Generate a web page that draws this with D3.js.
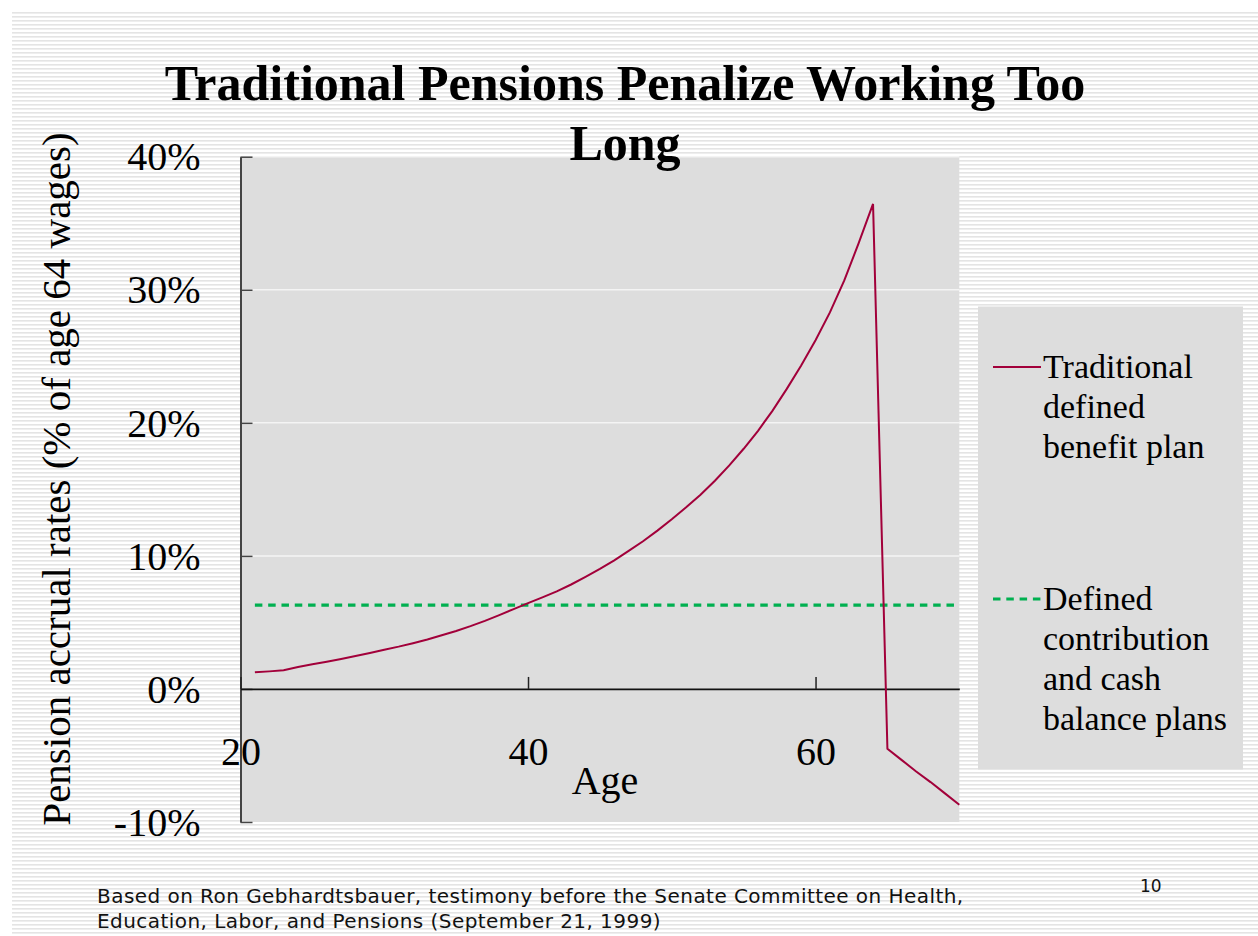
<!DOCTYPE html>
<html>
<head>
<meta charset="utf-8">
<script src="https://cdn.jsdelivr.net/npm/d3@7"></script>
<style>
  html, body { margin: 0; padding: 0; background: #ffffff; }
  svg { display: block; }
</style>
</head>
<body>
<svg id="chart" width="1258" height="936"></svg>
<script>
// Pension accrual by age, as a share of age-64 wages (%)
const ages = [21, 22, 23, 24, 25, 26, 27, 28, 29, 30,
              31, 32, 33, 34, 35, 36, 37, 38, 39, 40,
              41, 42, 43, 44, 45, 46, 47, 48, 49, 50,
              51, 52, 53, 54, 55, 56, 57, 58, 59, 60,
              61, 62, 63, 64, 65, 66, 67, 68, 69, 70];
const traditionalDB = [1.25, 1.32, 1.40, 1.65, 1.85, 2.05, 2.25, 2.47, 2.70, 2.95,
                       3.18, 3.44, 3.72, 4.03, 4.35, 4.72, 5.12, 5.55, 6.00, 6.45,
                       6.88, 7.33, 7.85, 8.42, 9.02, 9.66, 10.37, 11.10, 11.90, 12.75,
                       13.65, 14.60, 15.65, 16.80, 18.05, 19.40, 20.90, 22.55, 24.30, 26.20,
                       28.30, 30.70, 33.50, 36.45, -4.50, -5.35, -6.20, -7.00, -7.85, -8.70];
const dcAges = [21, 70];
const dcCashBalance = [6.3, 6.3];

const yTicks = [-10, 0, 10, 20, 30, 40];
const xTicks = [20, 40, 60];
const titleLines = ["Traditional Pensions Penalize Working Too", "Long"];
const legendTraditional = ["Traditional", "defined", "benefit plan"];
const legendDC = ["Defined", "contribution", "and cash", "balance plans"];
const sourceLines = ["Based on Ron Gebhardtsbauer, testimony before the Senate Committee on Health,",
                     "Education, Labor, and Pensions (September 21, 1999)"];
const slideNumber = "10";

const svg = d3.select("#chart");
const serif = "'Liberation Serif', 'Times New Roman', serif";
const sans = "'DejaVu Sans', Verdana, sans-serif";

// Striped slide background
const defs = svg.append("defs");
const pat = defs.append("pattern").attr("id", "stripes")
  .attr("patternUnits", "userSpaceOnUse").attr("width", 8).attr("height", 4);
pat.append("rect").attr("width", 8).attr("height", 4).attr("fill", "#ffffff");
pat.append("rect").attr("y", 0).attr("width", 8).attr("height", 1.6).attr("fill", "#e4e4e4");
svg.append("rect").attr("x", 12).attr("y", 10).attr("width", 1246).attr("height", 926)
  .attr("fill", "url(#stripes)");

// Plot area
const plot = { left: 240.5, right: 959.3, top: 156.7, bottom: 822 };
const x = d3.scaleLinear().domain([20, 70]).range([plot.left, plot.right]);
const y = d3.scaleLinear().domain([-10, 40]).range([plot.bottom, plot.top]);

svg.append("rect")
  .attr("x", plot.left).attr("y", plot.top)
  .attr("width", plot.right - plot.left).attr("height", plot.bottom - plot.top)
  .attr("fill", "#dddddd");

// Horizontal gridlines
svg.append("g").selectAll("line").data(yTicks.filter(d => d > 0)).join("line")
  .attr("x1", plot.left).attr("x2", plot.right)
  .attr("y1", d => y(d)).attr("y2", d => y(d))
  .attr("stroke", "#f4f4f4").attr("stroke-width", 1.5);

// Y axis
const yAxis = svg.append("g").attr("transform", `translate(${plot.left},0)`)
  .call(d3.axisLeft(y).tickValues(yTicks).tickFormat(d => d + "%")
    .tickSize(-12).tickSizeOuter(0).tickPadding(40));
yAxis.select(".domain").attr("stroke", "#444").attr("stroke-width", 2);
yAxis.selectAll(".tick line").attr("stroke", "#444").attr("stroke-width", 1.5);
yAxis.selectAll("text").attr("font-family", serif).attr("font-size", 40)
  .attr("fill", "#000").attr("dy", "0.33em");

// X axis along the zero line
const xAxis = svg.append("g").attr("transform", `translate(0,${y(0)})`)
  .call(d3.axisBottom(x).tickValues(xTicks).tickFormat(d3.format("d"))
    .tickSize(-12).tickSizeOuter(0).tickPadding(48));
xAxis.select(".domain").attr("stroke", "#111").attr("stroke-width", 1.8);
xAxis.selectAll(".tick line").attr("stroke", "#222").attr("stroke-width", 1.5);
xAxis.selectAll("text").attr("font-family", serif).attr("font-size", 40)
  .attr("fill", "#000").attr("dy", "0.71em");

// Series
const line = d3.line().x(d => x(d[0])).y(d => y(d[1]));
svg.append("path")
  .datum(dcAges.map((a, i) => [a, dcCashBalance[i]]))
  .attr("d", line).attr("fill", "none")
  .attr("stroke", "#00b050").attr("stroke-width", 3.2)
  .attr("stroke-dasharray", "7.5,5.8");
svg.append("path")
  .datum(ages.map((a, i) => [a, traditionalDB[i]]))
  .attr("d", line).attr("fill", "none")
  .attr("stroke", "#a2003a").attr("stroke-width", 2).attr("stroke-linejoin", "miter");

// Axis titles
svg.append("text").attr("x", 605).attr("y", 794).attr("text-anchor", "middle")
  .attr("font-family", serif).attr("font-size", 40).text("Age");
svg.append("text").attr("transform", "translate(70,479) rotate(-90)")
  .attr("text-anchor", "middle").attr("font-family", serif).attr("font-size", 41)
  .text("Pension accrual rates (% of age 64 wages)");

// Title
svg.append("g").selectAll("text").data(titleLines).join("text")
  .attr("x", 625).attr("y", (d, i) => 100 + i * 60)
  .attr("text-anchor", "middle").attr("font-family", serif)
  .attr("font-weight", "bold").attr("font-size", 50).text(d => d);

// Legend
const lg = svg.append("g");
lg.append("rect").attr("x", 978).attr("y", 306.5).attr("width", 265).attr("height", 463)
  .attr("fill", "#dddddd");
const legendItems = [
  { lines: legendTraditional, y: 367, color: "#a2003a", dash: null, width: 2 },
  { lines: legendDC, y: 599, color: "#00b050", dash: "7.5,5.8", width: 3.2 }
];
legendItems.forEach(item => {
  lg.append("line").attr("x1", 993).attr("x2", 1041)
    .attr("y1", item.y).attr("y2", item.y)
    .attr("stroke", item.color).attr("stroke-width", item.width)
    .attr("stroke-dasharray", item.dash);
  lg.append("g").selectAll("text").data(item.lines).join("text")
    .attr("x", 1043).attr("y", (d, i) => item.y + 11 + i * 40)
    .attr("font-family", serif).attr("font-size", 34).text(d => d);
});

// Source note and slide number
svg.append("g").selectAll("text").data(sourceLines).join("text")
  .attr("x", 97).attr("y", (d, i) => 902.5 + i * 25)
  .attr("font-family", sans).attr("font-size", 20).attr("letter-spacing", 0.45)
  .attr("fill", "#111").text(d => d);
svg.append("text").attr("x", 1140).attr("y", 892)
  .attr("font-family", sans).attr("font-size", 17).attr("fill", "#111").text(slideNumber);
</script>
</body>
</html>
